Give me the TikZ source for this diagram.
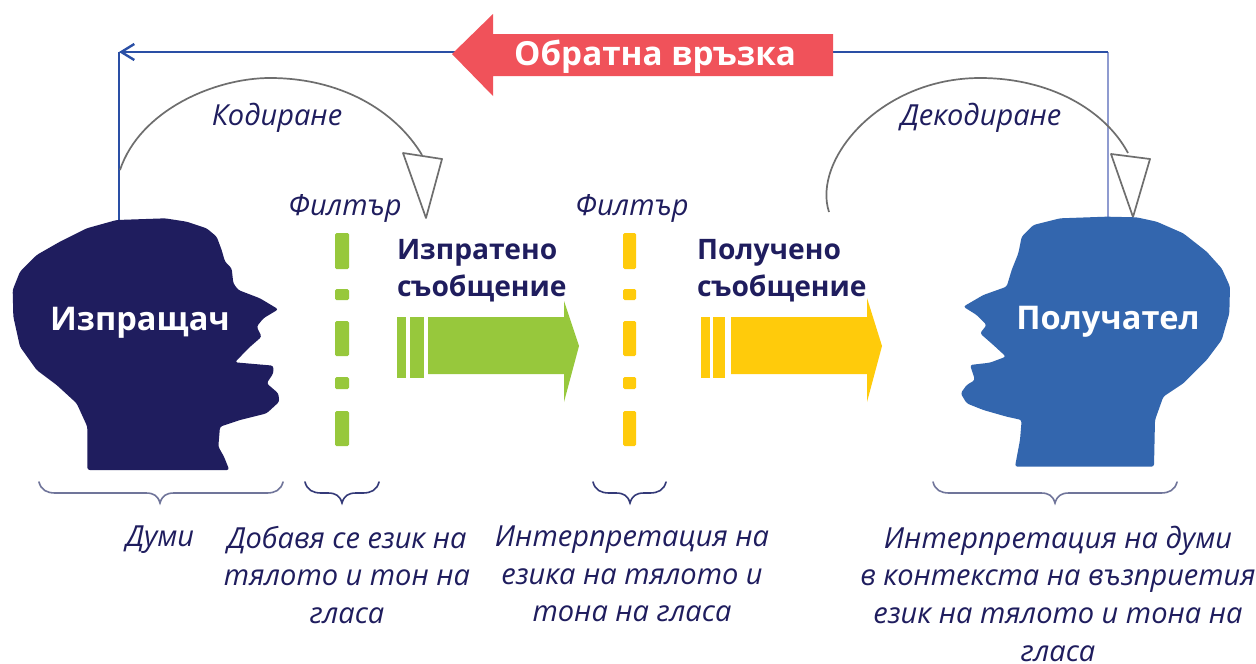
\documentclass[tikz,border=0pt]{standalone}
\usepackage{fontspec}
\setmainfont{Open Sans}
\usetikzlibrary{arrows.meta}
\definecolor{navy}{HTML}{1F1D5E}
\definecolor{recvblue}{HTML}{3366AE}
\definecolor{loopblue}{HTML}{2A4FA5}
\definecolor{paleblue}{HTML}{8F9BD0}
\definecolor{redarrow}{HTML}{F0525A}
\definecolor{greenc}{HTML}{97C83C}
\definecolor{yellowc}{HTML}{FFCB0B}
\definecolor{curvegray}{HTML}{6E6E6E}
\definecolor{bracegray}{HTML}{70759A}
\definecolor{bracedark}{HTML}{343A78}
\tikzset{
  x=1pt,y=-1pt,
  every node/.style={inner sep=0pt,outer sep=0pt},
  note/.style={font=\fontsize{29}{37.6}\selectfont\itshape,text=navy,align=center},
  smallnote/.style={font=\fontsize{29}{32}\selectfont\itshape,text=navy,align=center},
  msg/.style={font=\fontsize{28.2}{37}\selectfont\bfseries,text=navy,align=left,anchor=west},
  headlabel/.style={font=\fontsize{32.6}{36}\selectfont\bfseries,text=white},
  curve/.style={draw=curvegray,line width=1.7pt},
  feedback/.style={draw=loopblue,line width=2.4pt},
  zoomed/.style={x=0.33333pt,y=-0.33333pt,rounded corners=2.5pt},
}
\newcommand{\curlybrace}[4]{% x1, xmid, x2, colour
  \draw[#4,line width=1.6pt,line cap=round]
    (#1,482) .. controls (#1+2,490) and (#1+8,493) .. (#1+16,493)
    -- (#2-14,493) .. controls (#2-6,493) and (#2-2,496) .. (#2,503)
    .. controls (#2+2,496) and (#2+6,493) .. (#2+14,493)
    -- (#3-16,493) .. controls (#3-8,493) and (#3-2,490) .. (#3,482);}
\newcommand{\dashcolumn}[3]{% x1, x2, colour
  \foreach \ya/\yb in {233/269,289/300,321/356,377/389,411/446}
    \fill[#3,rounded corners=1.5pt] (#1,\ya) rectangle (#2,\yb);}
\begin{document}
\begin{tikzpicture}
\useasboundingbox (0,0) rectangle (1256,664);
\fill[white] (0,0) rectangle (1256,664);

% anchors of the connectors
\coordinate (senderTop) at (119,220);
\coordinate (cornerL) at (119,52);
\coordinate (receiverTop) at (1108,217);
\coordinate (cornerR) at (1108,52);
\coordinate (redTail) at (833,52);
\coordinate (redTip) at (460,52);
\coordinate (encStart) at (120,170);
\coordinate (encTop) at (270,78);
\coordinate (encEnd) at (422,155);
\coordinate (decStart) at (829,212);
\coordinate (decTop) at (980,78);
\coordinate (decEnd) at (1128,153);

% feedback line
\draw[draw=paleblue,line width=2.4pt] (receiverTop) -- (cornerR);
\draw[feedback] (cornerR) -- (redTail);
\draw[feedback] (senderTop) -- (cornerL);
\draw[feedback,-{Straight Barb[length=13pt,width=16pt]}] (redTip) -- (cornerL);

% encode / decode curves
\draw[curve] (encStart) .. controls (140,110) and (215,78) .. (encTop)
  .. controls (340,78) and (395,110) .. (encEnd);
\draw[curve,fill=white,line join=round] (403,153) -- (442,159) -- (426,218) -- cycle;
\draw[curve] (decStart) .. controls (812,160) and (880,78) .. (decTop)
  .. controls (1050,78) and (1105,110) .. (decEnd);
\draw[curve,fill=white,line join=round] (1111,154) -- (1150,159) -- (1133,217) -- cycle;

% sender head
\begin{scope}[shift={(0,200)},zoomed]
\fill[navy] (350,60) -- (495,55) -- (560,65) -- (620,85) -- (650,110) -- (665,150) -- (675,185) -- (695,205) -- (700,250) -- (715,270) -- (780,295) -- (835,328) -- (790,355) -- (770,380) -- (785,410) -- (745,445) -- (705,487) -- (820,497) -- (820,520) -- (800,550) -- (835,580) -- (838,605) -- (800,640) -- (720,660) -- (660,680) -- (655,740) -- (672,770) -- (688,810) -- (262,810) -- (262,680) -- (230,610) -- (170,555) -- (110,510) -- (60,440) -- (40,350) -- (38,270) -- (60,215) -- (110,165) -- (180,125) -- (260,85) -- cycle;
\end{scope}
% receiver head
\begin{scope}[shift={(950,200)},zoomed]
\fill[recvblue] (470,50) -- (560,52) -- (620,65) -- (700,100) -- (770,155) -- (815,205) -- (840,260) -- (838,340) -- (815,420) -- (770,480) -- (700,550) -- (640,590) -- (615,660) -- (612,800) -- (195,800) -- (210,720) -- (215,660) -- (170,650) -- (100,630) -- (50,610) -- (32,580) -- (50,555) -- (75,540) -- (60,495) -- (120,488) -- (168,470) -- (130,435) -- (90,400) -- (110,375) -- (80,345) -- (40,320) -- (100,285) -- (170,260) -- (185,210) -- (205,160) -- (215,110) -- (250,75) -- (330,55) -- cycle;
\end{scope}
\node[headlabel] (sender) at (140,323) {Изпращач};
\node[headlabel] (receiver) at (1108,322) {Получател};

% red feedback arrow
\fill[redarrow] (452,54) -- (493,14) -- (493,34) -- (833,34) -- (833,76) -- (493,76) -- (493,96) -- cycle;
\node[font=\fontsize{33.2}{36}\selectfont\bfseries,text=white] (feedbacklabel) at (655,57) {Обратна връзка};

% filters
\dashcolumn{335}{349}{greenc}
\dashcolumn{623}{636}{yellowc}

% message arrows
\fill[greenc] (397,317) rectangle (406,378);
\fill[greenc] (410,317) rectangle (424,378);
\fill[greenc] (428,317) -- (564,317) -- (564,301) -- (579,346) -- (564,402) -- (564,374) -- (428,374) -- cycle;
\fill[yellowc] (701,317) rectangle (710,378);
\fill[yellowc] (713,317) rectangle (725,378);
\fill[yellowc] (731,317) -- (867,317) -- (867,298) -- (882,346) -- (867,402) -- (867,374) -- (731,374) -- cycle;

% labels
\node[smallnote] (enc) at (277,118) {Кодиране};
\node[smallnote] (dec) at (981,118) {Декодиране};
\node[smallnote] (f1) at (345,208) {Филтър};
\node[smallnote] (f2) at (632,208) {Филтър};
\node[msg] (sent) at (397,271) {Изпратено\\съобщение};
\node[msg] (got) at (697,271) {Получено\\съобщение};

% braces
\curlybrace{39}{160}{283}{bracegray}
\curlybrace{305}{342}{379}{bracedark}
\curlybrace{593}{630}{666}{bracedark}
\curlybrace{933}{1055}{1177}{bracegray}

% bottom captions
\node[note,anchor=north] (c1) at (160,526) {Думи};
\node[note,anchor=north] (c2) at (347,526) {Добавя се език на\\тялото и тон на\\гласа};
\node[note,anchor=north] (c3) at (632,526) {Интерпретация на\\езика на тялото и\\тона на гласа};
\node[note,anchor=north] (c4) at (1058,526) {Интерпретация на думи\\в контекста на възприетия\\език на тялото и тона на\\гласа};
\end{tikzpicture}
\end{document}
